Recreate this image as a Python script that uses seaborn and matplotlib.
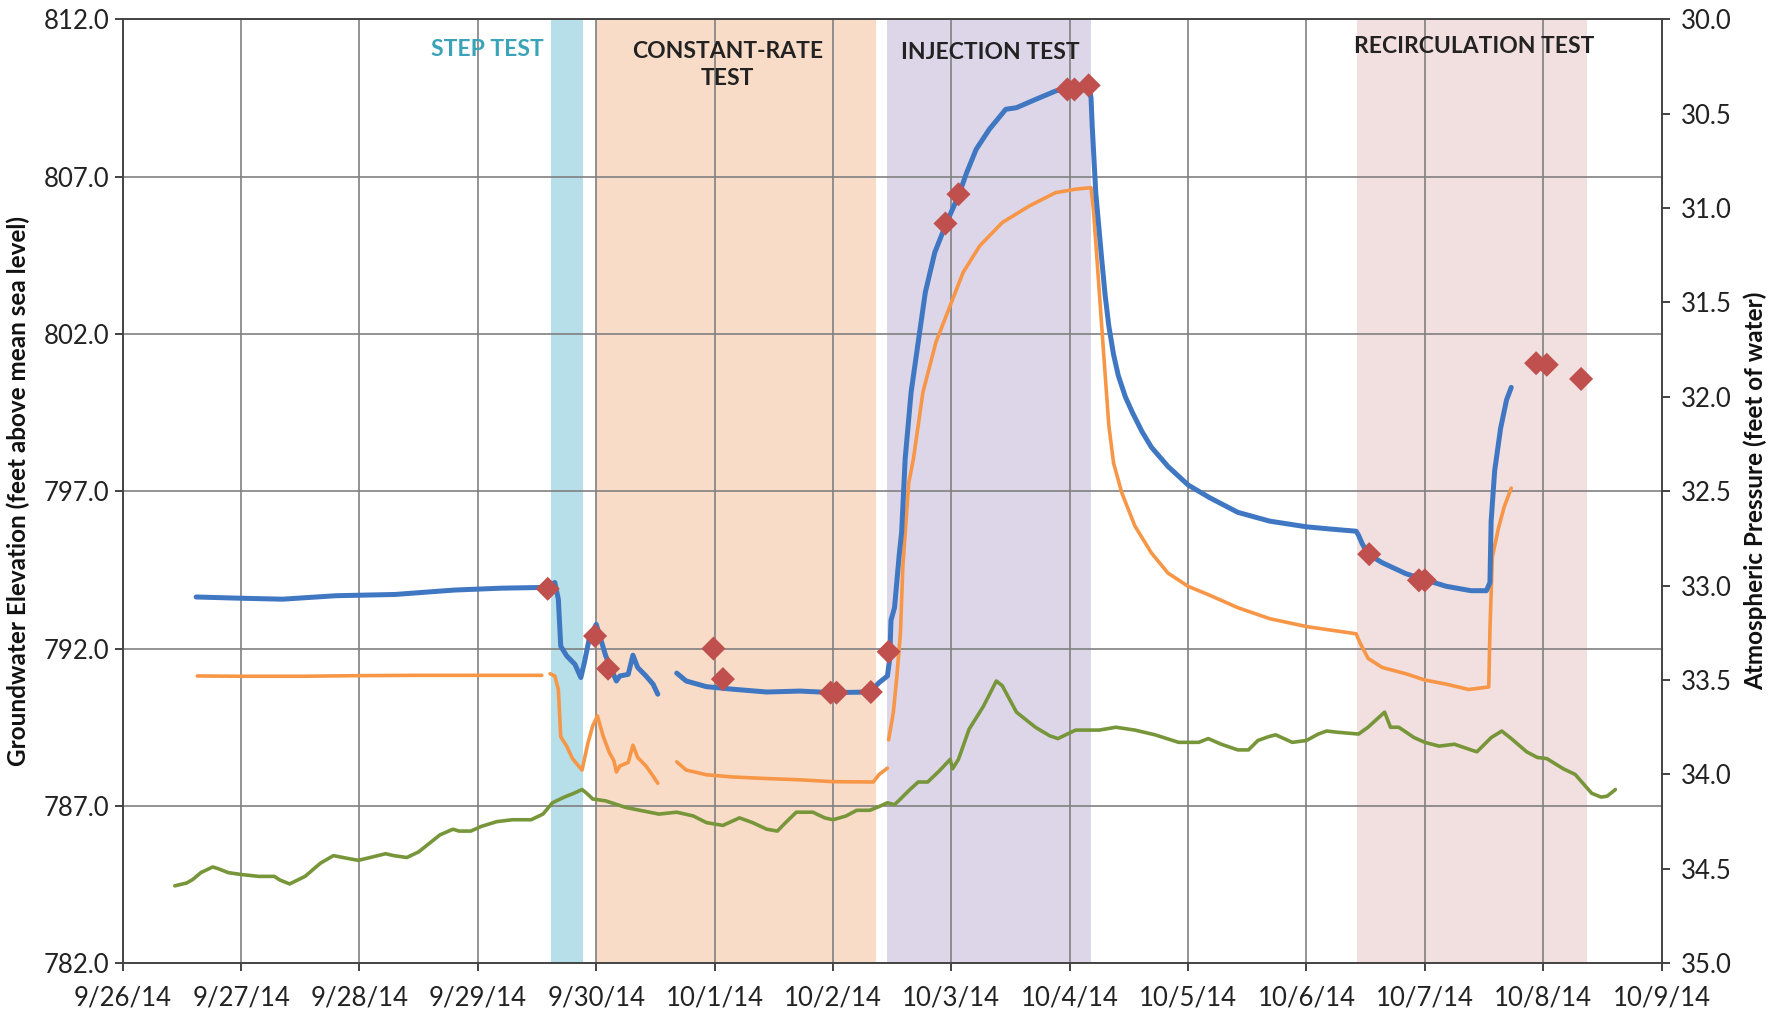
import numpy as np
import pandas as pd
import matplotlib
matplotlib.use("Agg")
import matplotlib.pyplot as plt
import matplotlib.dates as mdates
import seaborn as sns

# Dias decorridos desde 9/26/14 00:00 e valores (NaN = falha na série)
blue_days = [0.62, 1.0, 1.35, 1.8, 2.3, 2.8, 3.2, 3.5, 3.58, 3.65, 3.68, 3.70, 3.75, 3.82, 3.87,
             3.90, 3.94, 4.0, 4.03, 4.08, 4.17, 4.20, 4.27, 4.31, 4.35, 4.42, 4.48, 4.52, np.nan,
             4.68, 4.76, 4.93, 5.15, 5.44, 5.72, 6.0, 6.31, 6.39, 6.46, 6.48, 6.49, 6.52, 6.56,
             6.58, 6.61, 6.66, 6.72, 6.78, 6.86, 6.96, 7.06, 7.13, 7.21, 7.32, 7.46, 7.55, 7.71,
             7.88, 7.99, 8.16, 8.18, 8.19, 8.22, 8.27, 8.30, 8.33, 8.37, 8.41, 8.47, 8.53, 8.61,
             8.69, 8.83, 9.0, 9.18, 9.42, 9.69, 10.0, 10.2, 10.42, 10.44, 10.47, 10.52, 10.64,
             10.84, 11.0, 11.18, 11.39, 11.52, 11.55, 11.56, 11.59, 11.64, 11.69, 11.73]
blue_vals = [793.64, 793.6, 793.57, 793.68, 793.72, 793.86, 793.92, 793.94, 793.94, 794.1, 793.57,
             792.08, 791.77, 791.5, 791.08, 791.56, 792.3, 792.77, 792.4, 791.77, 790.97, 791.13,
             791.18, 791.79, 791.4, 791.13, 790.87, 790.55, np.nan, 791.22, 790.97, 790.79, 790.71,
             790.62, 790.65, 790.6, 790.62, 790.92, 791.13, 791.7, 792.9, 793.3, 795.0, 795.7,
             798.04, 800.15, 801.74, 803.32, 804.59, 805.54, 806.39, 807.13, 807.87, 808.5, 809.14,
             809.19, 809.45, 809.72, 809.82, 809.93, 809.5, 808.6, 806.49, 804.38, 803.2, 802.26,
             801.35, 800.68, 800.0, 799.5, 798.9, 798.4, 797.79, 797.2, 796.8, 796.33, 796.05,
             795.87, 795.8, 795.73, 795.6, 795.34, 795.0, 794.73, 794.38, 794.19, 793.98, 793.84,
             793.84, 794.1, 796.05, 797.66, 799.0, 799.9, 800.3]

orange_days = [0.63, 1.0, 1.5, 2.0, 2.5, 3.0, 3.54, np.nan, 3.61, 3.65, 3.68, 3.70, 3.75, 3.80,
               3.88, 3.93, 3.97, 4.01, 4.06, 4.11, 4.15, 4.17, 4.20, 4.27, 4.31, 4.35, 4.42, 4.48,
               4.52, np.nan, 4.68, 4.76, 4.93, 5.15, 5.44, 5.72, 6.0, 6.34, 6.39, 6.46, np.nan,
               6.47, 6.51, 6.54, 6.57, 6.59, 6.64, 6.68, 6.76, 6.87, 6.99, 7.10, 7.24, 7.43, 7.66,
               7.88, 8.05, 8.18, 8.20, 8.25, 8.29, 8.33, 8.37, 8.44, 8.55, 8.69, 8.83, 9.0, 9.18,
               9.42, 9.69, 10.0, 10.42, 10.45, 10.52, 10.64, 10.84, 11.0, 11.18, 11.37, 11.54,
               11.55, 11.57, 11.62, 11.67, 11.73]
orange_vals = [791.13, 791.12, 791.12, 791.14, 791.15, 791.15, 791.15, np.nan, 791.2, 791.13,
               790.7, 789.2, 788.9, 788.5, 788.14, 789.0, 789.54, 789.86, 789.2, 788.7, 788.43,
               788.08, 788.27, 788.38, 788.93, 788.54, 788.27, 787.95, 787.72, np.nan, 788.4,
               788.14, 787.99, 787.92, 787.87, 787.83, 787.77, 787.76, 788.0, 788.2, np.nan,
               789.1, 789.97, 791.13, 792.5, 794.6, 797.26, 798.04, 800.15, 801.74, 802.9, 803.96,
               804.8, 805.54, 806.07, 806.49, 806.6, 806.65, 805.96, 803.32, 801.2, 799.1, 797.9,
               796.95, 795.9, 795.04, 794.4, 793.98, 793.7, 793.3, 792.95, 792.7, 792.47, 792.2,
               791.69, 791.4, 791.2, 791.0, 790.87, 790.7, 790.78, 792.6, 794.9, 795.8, 796.5,
               797.1]

# Pressão atmosférica (eixo direito, pés de água)
green_days = [0.44, 0.54, 0.59, 0.66, 0.76, 0.81, 0.89, 1.0, 1.15, 1.28, 1.33, 1.41, 1.54, 1.67,
              1.78, 1.86, 1.99, 2.09, 2.22, 2.29, 2.40, 2.50, 2.58, 2.68, 2.79, 2.84, 2.94, 3.03,
              3.16, 3.29, 3.45, 3.55, 3.63, 3.73, 3.81, 3.88, 3.92, 3.97, 4.08, 4.25, 4.53, 4.68,
              4.82, 4.93, 5.07, 5.21, 5.32, 5.44, 5.53, 5.60, 5.69, 5.83, 5.93, 6.0, 6.11, 6.20,
              6.31, 6.39, 6.46, 6.52, 6.57, 6.65, 6.72, 6.80, 6.90, 6.99, 7.01, 7.06, 7.15, 7.27,
              7.38, 7.43, 7.55, 7.71, 7.83, 7.90, 8.05, 8.25, 8.39, 8.55, 8.72, 8.92, 9.09, 9.17,
              9.28, 9.42, 9.51, 9.59, 9.68, 9.74, 9.88, 10.0, 10.1, 10.17, 10.27, 10.44, 10.52,
              10.66, 10.71, 10.78, 10.91, 11.0, 11.12, 11.25, 11.39, 11.44, 11.56, 11.65, 11.73,
              11.86, 11.95, 12.03, 12.17, 12.27, 12.41, 12.49, 12.54, 12.61]
green_vals = [34.59, 34.575, 34.557, 34.52, 34.49, 34.5, 34.52, 34.53, 34.54, 34.54, 34.56, 34.58,
              34.54, 34.47, 34.43, 34.44, 34.455, 34.44, 34.42, 34.43, 34.44, 34.41, 34.37, 34.32,
              34.29, 34.30, 34.30, 34.275, 34.25, 34.24, 34.24, 34.21, 34.15, 34.12, 34.10, 34.08,
              34.10, 34.13, 34.14, 34.175, 34.21, 34.20, 34.22, 34.255, 34.27, 34.23, 34.255,
              34.29, 34.30, 34.255, 34.20, 34.20, 34.23, 34.24, 34.22, 34.19, 34.19, 34.17, 34.15,
              34.16, 34.13, 34.08, 34.04, 34.04, 33.98, 33.92, 33.97, 33.92, 33.76, 33.64, 33.505,
              33.53, 33.67, 33.75, 33.795, 33.81, 33.765, 33.765, 33.75, 33.765, 33.79, 33.83,
              33.83, 33.81, 33.84, 33.87, 33.87, 33.82, 33.80, 33.79, 33.83, 33.82, 33.786, 33.77,
              33.777, 33.786, 33.75, 33.67, 33.75, 33.75, 33.805, 33.83, 33.85, 33.84, 33.87,
              33.88, 33.805, 33.77, 33.81, 33.88, 33.91, 33.916, 33.97, 34.0, 34.10, 34.12,
              34.115, 34.08]

# Medições manuais (losangos vermelhos)
manual_days = [3.59, 3.99, 4.10, 4.99, 5.07, 5.98, 6.03, 6.32, 6.47, 6.95, 7.06, 7.98, 8.04, 8.16,
               10.53, 10.95, 11.0, 11.94, 12.03, 12.32]
manual_vals = [793.9, 792.4, 791.36, 792.0, 791.03, 790.6, 790.6, 790.62, 791.9, 805.51, 806.44,
               809.77, 809.77, 809.9, 795.0, 794.17, 794.17, 801.07, 801.02, 800.57]

# Períodos dos testes (início, fim em dias)
test_names = ["STEP TEST", "CONSTANT-RATE\nTEST", "INJECTION TEST", "RECIRCULATION TEST"]
test_starts = [3.62, 4.0, 6.46, 10.43]
test_ends = [3.89, 6.36, 8.18, 12.37]
test_colors = ["#b7dfe9", "#f8dcc8", "#ddd6e8", "#f2dfe0"]
label_days = [3.08, 5.11, 7.33, 11.42]
label_vals = [811.05, 810.55, 810.95, 811.15]
label_colors = ["#3aa3b8", "#222222", "#222222", "#222222"]

t0 = pd.Timestamp("2014-09-26")


def to_frame(days, vals):
    df = pd.DataFrame({"day": days, "val": vals})
    df["seg"] = df["day"].isna().cumsum()
    df = df.dropna()
    df["date"] = t0 + pd.to_timedelta(df["day"], unit="D")
    return df


sns.set_theme(style="white")
plt.rcParams["font.family"] = ["Lato", "DejaVu Sans"]

fig = plt.figure(figsize=(17.79, 10.15), dpi=100)
ax = fig.add_axes([0.069, 0.051, 0.865, 0.930])

# Faixas dos testes
for s, e, c in zip(test_starts, test_ends, test_colors):
    ax.axvspan(t0 + pd.Timedelta(days=s), t0 + pd.Timedelta(days=e), color=c, lw=0, zorder=0.2)

ax.set_axisbelow(True)
ax.grid(True, color="#808080", lw=1.2, zorder=0.5)

blue_df = to_frame(blue_days, blue_vals)
orange_df = to_frame(orange_days, orange_vals)
green_df = to_frame(green_days, green_vals)
manual_df = to_frame(manual_days, manual_vals)

sns.lineplot(data=orange_df, x="date", y="val", units="seg", estimator=None, sort=False,
             color="#f79646", lw=2.6, ax=ax, zorder=3)
sns.lineplot(data=blue_df, x="date", y="val", units="seg", estimator=None, sort=False,
             color="#4077c2", lw=3.6, ax=ax, zorder=4)
sns.scatterplot(data=manual_df, x="date", y="val", marker="D", s=150, color="#c0504d",
                edgecolor="none", ax=ax, zorder=5)

ax.set_xlim(t0, t0 + pd.Timedelta(days=13))
ax.set_ylim(782, 812)
ax.set_yticks(np.arange(782, 813, 5))
ax.yaxis.set_major_formatter(plt.FuncFormatter(lambda v, p: f"{v:.1f}"))
ax.xaxis.set_major_locator(mdates.DayLocator())
ax.xaxis.set_major_formatter(plt.FuncFormatter(
    lambda x, p: (lambda d: f"{d.month}/{d.day}/{d.year % 100}")(mdates.num2date(x))))
ax.set_xlabel("")
ax.set_ylabel("Groundwater Elevation (feet above mean sea level)", fontsize=17.5,
              fontweight="bold", labelpad=10, color="#111111")
ax.tick_params(axis="both", labelsize=18.5, colors="#222222", length=6, width=1.2,
               direction="out", bottom=True, left=True)
ax.tick_params(axis="x", pad=10)

for sp in ax.spines.values():
    sp.set_color("#444444")
    sp.set_linewidth(1.2)

# Eixo direito: pressão atmosférica (invertido)
ax2 = ax.twinx()
sns.lineplot(data=green_df, x="date", y="val", units="seg", estimator=None, sort=False,
             color="#77963a", lw=2.6, ax=ax2, zorder=3)
ax2.set_ylim(35, 30)
ax2.set_yticks(np.arange(30, 35.01, 0.5))
ax2.yaxis.set_major_formatter(plt.FuncFormatter(lambda v, p: f"{v:.1f}"))
ax2.grid(False)
ax2.set_ylabel("Atmospheric Pressure (feet of water)", fontsize=17.5, fontweight="bold",
               labelpad=8, color="#111111")
ax2.tick_params(axis="y", labelsize=18.5, colors="#222222", length=6, width=1.2,
                direction="out", right=True, pad=8)
for sp in ax2.spines.values():
    sp.set_color("#444444")
    sp.set_linewidth(1.2)
ax2.set_xlim(ax.get_xlim())

for name, d, v, c in zip(test_names, label_days, label_vals, label_colors):
    ax.text(t0 + pd.Timedelta(days=d), v, name, ha="center", va="center", fontsize=16.5,
            fontweight="bold", color=c, linespacing=1.35, zorder=6)

fig.savefig("out.png", dpi=100)
